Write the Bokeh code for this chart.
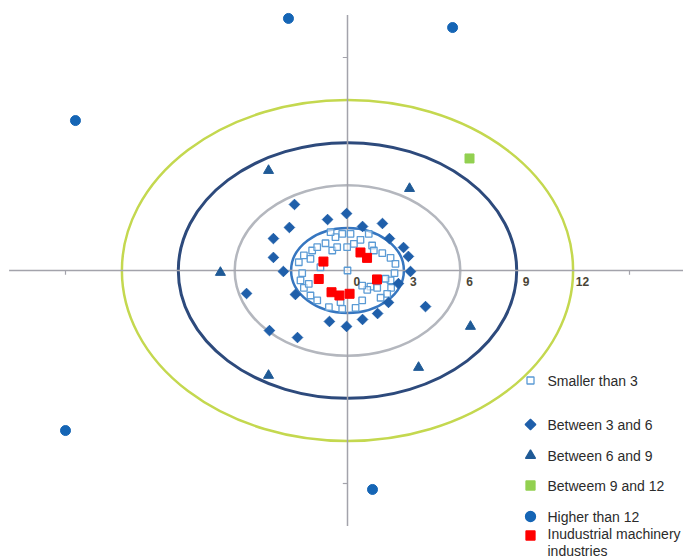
import math
from bokeh.plotting import figure
from bokeh.models import Range1d, Label
from bokeh.core.properties import value
from bokeh.embed import file_html
from bokeh.resources import INLINE

# ---------------- data ----------------
small_x = [-0.28, 0.16, 0.69, 1.31, 1.85, 2.29, 2.55, 2.50, 2.29, 2.32, 2.11, 1.76, 1.22, 1.58,
           0.43, -0.28, -0.37, -0.99, -1.61, -1.97, -2.32, -2.50, -2.41, -2.59, -2.32, -1.88,
           -1.61, -1.17, -0.64, 0.34, -0.02, -1.97, -1.44, -2.06, 1.40, 2.02, 0.78, -0.90, 1.13,
           -0.81, -0.55, 1.05, 0.78, 0.0]
small_y = [2.58, 2.58, 2.16, 1.76, 1.22, 0.89, 0.47, -0.19, -0.70, -1.22, -1.64, -1.92, -1.13, -1.22,
           -2.63, -2.70, -2.23, -2.58, -2.11, -1.76, -1.22, -0.70, -0.19, 0.58, 1.06, 1.41,
           1.64, 1.92, 2.35, 1.88, 1.64, 0.82, 0.23, -0.94, 1.41, -0.58, -2.11, 2.70, 2.58,
           1.41, 1.64, -1.36, -1.06, 0.0]

mid_x = [-2.82, -0.05, -1.06, -3.09, 0.80, 1.86, -3.94, 2.23, 2.98, -3.94, 3.24, -3.41,
         3.35, -5.37, -2.77, 2.71, 2.18, 4.15, 1.60, 0.80, -0.96, -0.05, -4.15, -2.66]
mid_y = [4.65, 4.01, 3.59, 3.03, 3.10, 3.31, 2.25, 2.25, 1.62, 0.92, 0.99, -0.07,
         -0.07, -1.62, -1.69, -0.92, -2.25, -2.54, -3.03, -3.45, -3.59, -3.94, -4.23, -4.72]

tri_x = [-4.20, 3.30, -6.76, -4.20, 3.78, 6.54]
tri_y = [7.04, 5.77, -0.14, -7.39, -6.83, -3.94]

g912_x = [6.49]
g912_y = [7.89]

high_x = [-3.14, 5.59, -14.47, -15.00, 1.33]
high_y = [17.75, 17.11, 10.56, -11.27, -15.42]

ind_x = [-1.28, 0.69, 1.04, 1.57, -1.53, -0.85, -0.43, 0.11]
ind_y = [0.63, 1.27, 0.89, -0.63, -0.60, -1.53, -1.76, -1.64]

ring_radii = [3, 6, 9, 12]
tick_labels = ["0", "3", "6", "9", "12"]
legend_labels = ["Smaller than 3", "Between 3 and 6", "Between 6 and 9",
                 "Betweem 9 and 12", "Higher than 12", "Inudustrial machinery"]

# ---------------- layout ----------------
W, H = 683, 558
OX, OY = 347, 270             # origin in frame pixels
SX, SY = 18.8, 14.2           # pixels per unit
x0, x1 = -OX / SX, (W - OX) / SX
y1, y0 = OY / SY, -(H - OY) / SY

p = figure(width=W, height=H, x_range=Range1d(x0, x1), y_range=Range1d(y0, y1),
           output_backend="svg", toolbar_location=None, min_border=0,
           x_axis_location=None, y_axis_location=None)
p.grid.visible = False
p.outline_line_color = None
p.background_fill_color = "white"

ring_colors = ["#3676C0", "#B4B7BE", "#2D4A7C", "#C4D84F"]
ring_widths = [2.5, 2.5, 3, 2.5]
for r, c, w in zip(ring_radii, ring_colors, ring_widths):
    p.ellipse(x=0, y=0, width=2 * r, height=2 * r, fill_color=None, line_color=c, line_width=w)

# axes lines
ax_col = "#A3A3AB"
p.segment(x0=[-18, 0], y0=[0, -18], x1=[x1, 0], y1=[0, 18], line_color=ax_col, line_width=1.5)
p.segment(x0=[-15, 15], y0=[0, 0], x1=[-15, 15], y1=[-0.3, -0.3], line_color=ax_col, line_width=1.2)
p.segment(x0=[0, 0], y0=[-15, 15], x1=[-0.25, -0.25], y1=[-15, 15], line_color=ax_col, line_width=1.2)

# points
p.scatter(small_x, small_y, marker="square", size=6.5, fill_color="white", fill_alpha=0.6,
          line_color="#5B9BD5", line_width=1.3)
p.scatter(mid_x, mid_y, marker="square", angle=math.pi / 4, size=7.5,
          fill_color="#1F5FAA", line_color="#1F5FAA")
p.scatter(tri_x, tri_y, marker="triangle", size=10, fill_color="#1F5A96", line_color="#1F5A96")
p.scatter(g912_x, g912_y, marker="square", size=9, fill_color="#92D050", line_color="#92D050")
p.scatter(high_x, high_y, marker="circle", size=10, fill_color="#1565B5", line_color="#1565B5")
p.scatter(ind_x, ind_y, marker="square", size=9, fill_color="#FF0000", line_color="#FF0000")

# tick labels
p.text(x=[float(t) + 0.5 for t in tick_labels], y=[-0.8] * len(tick_labels), text=tick_labels,
       text_font=value("Liberation Sans"), text_font_size="12px", text_color="#4A4536",
       text_font_style="bold", text_align="center", text_baseline="middle")

# legend (manual)
leg_page_y = [380, 424, 455, 485, 516, 535]
leg_markers = ["square", "square", "triangle", "square", "circle", "square"]
leg_angle = [0, math.pi / 4, 0, 0, 0, 0]
leg_fill = ["white", "#1F5FAA", "#1F5A96", "#92D050", "#1565B5", "#FF0000"]
leg_line = ["#5B9BD5", "#1F5FAA", "#1F5A96", "#92D050", "#1565B5", "#FF0000"]
leg_size = [7, 7.5, 10, 9, 10, 9]
mx = (530 - OX) / SX
for py, mk, ang, fc, lc, sz in zip(leg_page_y, leg_markers, leg_angle, leg_fill, leg_line, leg_size):
    p.scatter([mx], [(OY - py) / SY], marker=mk, angle=ang, size=sz, fill_color=fc, line_color=lc,
              line_width=1.3)

text_page_y = [380, 424, 455, 485, 516, 533]
for lab, py in zip(legend_labels, text_page_y):
    p.add_layout(Label(x=547, y=H - py, x_units="screen", y_units="screen", text=lab,
                       text_font="Liberation Sans", text_font_size="14px", text_color="#2B2B2B",
                       text_baseline="middle"))
p.add_layout(Label(x=547, y=H - 550, x_units="screen", y_units="screen", text="industries",
                   text_font="Liberation Sans", text_font_size="14px", text_color="#2B2B2B",
                   text_baseline="middle"))

open("out.html", "w").write(file_html(p, INLINE))
